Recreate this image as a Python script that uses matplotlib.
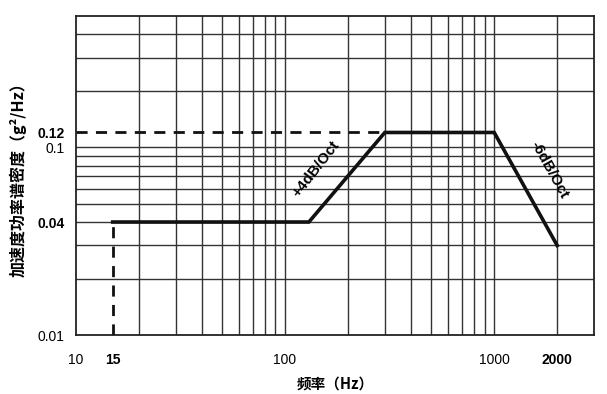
import matplotlib
matplotlib.use('Agg')
import matplotlib.pyplot as plt

# spectrum break points (Hz, g^2/Hz)
freq = [15, 130, 300, 1000, 2000]
psd = [0.04, 0.04, 0.12, 0.12, 0.03]

# grid lines drawn on the chart paper
grid_x = [20, 30, 40, 50, 60, 70, 80, 90, 100,
          200, 300, 400, 500, 600, 700, 800, 900, 1000, 2000]
grid_y = [0.02, 0.03, 0.04, 0.05, 0.06, 0.07, 0.08, 0.09, 0.1, 0.2, 0.3, 0.4]

x_ticks = [10, 15, 100, 1000, 2000]
x_labels = ['10', '15', '100', '1000', '2000']
x_bold = [False, True, False, False, True]
y_ticks = [0.01, 0.04, 0.1, 0.12]
y_labels = ['0.01', '0.04', '0.1', '0.12']
y_bold = [False, True, False, True]

cjk = ['Noto Sans CJK SC', 'DejaVu Sans']
plt.rcParams['font.family'] = ['Liberation Sans', 'DejaVu Sans']

fig = plt.figure(figsize=(6.07, 3.94), dpi=100)
ax = fig.add_axes([0.125, 0.1497, 0.8536, 0.8093])
ax.set_xscale('log')
ax.set_yscale('log')
ax.set_xlim(10, 3000)
ax.set_ylim(0.01, 0.5)

for gx in grid_x:
    ax.axvline(gx, color='#333333', lw=1.0, zorder=1)
for gy in grid_y:
    ax.axhline(gy, color='#333333', lw=1.0, zorder=1)

# spectrum
ax.plot(freq, psd, color='#111111', lw=2.6, solid_joinstyle='miter', zorder=3)
# dashed guides
ax.plot([freq[0], freq[0]], [0.01, psd[0]], color='#111111', lw=2.0,
        ls=(0, (4, 3)), zorder=3)
ax.plot([10, freq[2]], [psd[2], psd[2]], color='#111111', lw=2.0,
        ls=(0, (4, 3)), zorder=3)

ax.text(141, 0.077, '+4dB/Oct', rotation=52, ha='center', va='center',
        fontsize=11, fontweight='bold', zorder=4)
ax.text(1830, 0.076, '-6dB/Oct', rotation=-61, ha='center', va='center',
        fontsize=11, fontweight='bold', zorder=4)

ax.minorticks_off()
ax.set_xticks(x_ticks)
ax.set_xticklabels(x_labels)
ax.set_yticks(y_ticks)
ax.set_yticklabels(y_labels)
ax.tick_params(axis='both', length=0, labelsize=10)
ax.tick_params(axis='x', pad=13)
ax.tick_params(axis='y', pad=8)
for lab, b in zip(ax.get_xticklabels(), x_bold):
    if b:
        lab.set_fontweight('bold')
for lab, b in zip(ax.get_yticklabels(), y_bold):
    if b:
        lab.set_fontweight('bold')

for s in ax.spines.values():
    s.set_color('#222222')
    s.set_linewidth(1.3)

ax.set_xlabel('频率（Hz）', family=cjk, fontsize=10.5, fontweight='bold', labelpad=6)
ax.set_ylabel('加速度功率谱密度（g²/Hz）', family=cjk, fontsize=11.5,
              fontweight='bold', labelpad=8)

fig.savefig('out.png', dpi=100)
